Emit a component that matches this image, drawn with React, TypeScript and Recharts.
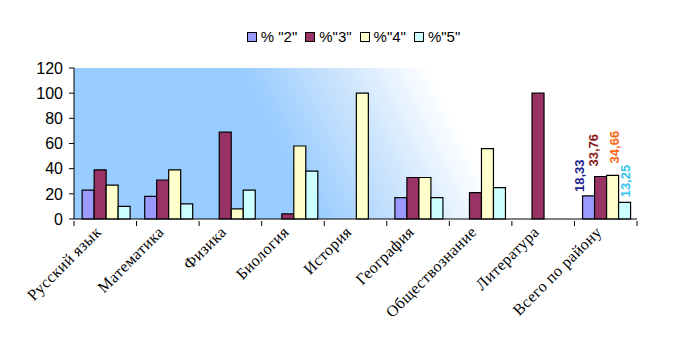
import React from "react";
import {Bar, BarChart, CartesianGrid, LabelList, Legend, XAxis, YAxis} from "recharts";

const subjects = [
    "Русский язык",
    "Математика",
    "Физика",
    "Биология",
    "История",
    "География",
    "Обществознание",
    "Литература",
    "Всего по району",
];

const pct2 = [23, 18, 0, 0, 0, 17, 0, 0, 18.33];
const pct3 = [39, 31, 69, 4, 0, 33, 21, 100, 33.76];
const pct4 = [27, 39, 8, 58, 100, 33, 56, 0, 34.66];
const pct5 = [10, 12, 23, 38, 0, 17, 25, 0, 13.25];

const yTicks = [0, 20, 40, 60, 80, 100, 120];

// label nudges copy where the original placed the total labels
const series = [
    {key: "p2", name: "% \"2\"", fill: "#9999ff", label: "#1c1c8c", dx: -10, gap: 4},
    {key: "p3", name: "%\"3\"", fill: "#993366", label: "#8b1a1a", dx: -8, gap: 10},
    {key: "p4", name: "%\"4\"", fill: "#ffffcc", label: "#ff6a13", dx: 1, gap: 12},
    {key: "p5", name: "%\"5\"", fill: "#ccffff", label: "#33c4ee", dx: 0, gap: 5},
];

const data = subjects.map((name, i) => ({
    name,
    p2: pct2[i],
    p3: pct3[i],
    p4: pct4[i],
    p5: pct5[i],
}));

const W = 694;
const H = 353;
const LEFT = 74;
const RIGHT = 637;
const HALF = (RIGHT - LEFT) / subjects.length / 2;
const FONT = "'Liberation Sans', Arial, sans-serif";

function SubjectTick(props: any) {
    const {x, y, payload, index} = props;
    const tx = x - 3;
    const ty = y + 6;
    return (
        <g>
            <line x1={x - HALF} y1={y - 6} x2={x - HALF} y2={y - 1} stroke="#000" />
            {index === subjects.length - 1 &&
                <line x1={x + HALF} y1={y - 6} x2={x + HALF} y2={y - 1} stroke="#000" />}
            <text
                x={tx}
                y={ty}
                transform={`rotate(-45 ${tx} ${ty})`}
                textAnchor="end"
                fontFamily="'Liberation Serif', serif"
                fontSize={16}
                letterSpacing={0.4}
                fill="#000"
            >
                {payload.value}
            </text>
        </g>
    );
}

function totalLabel(color: string, dx: number, gap: number) {
    return (props: any) => {
        const {x, y, width, value} = props;
        // only the district total gets its value written above the bar
        if (x < RIGHT - 2 * HALF) return null;
        const cx = x + width / 2 + dx + 5;
        const cy = y - gap;
        return (
            <text
                x={cx}
                y={cy}
                transform={`rotate(-90 ${cx} ${cy})`}
                textAnchor="start"
                fontFamily={FONT}
                fontWeight="bold"
                fontSize={13}
                fill={color}
            >
                {String(value).replace(".", ",")}
            </text>
        );
    };
}

function BoxLegend(props: any) {
    const {payload} = props;
    return (
        <div style={{display: "flex", justifyContent: "center", fontFamily: FONT, fontSize: 15, color: "#000"}}>
            {payload.map((p: any) => (
                <span key={p.value} style={{display: "inline-flex", alignItems: "center", marginRight: 8}}>
                    <svg width={10} height={10} style={{marginRight: 4}}>
                        <rect x={0.5} y={0.5} width={9} height={9} fill={p.color} stroke="#000" />
                    </svg>
                    {p.value}
                </span>
            ))}
        </div>
    );
}

export default function App() {
    return (
        <div style={{position: "absolute", left: 0, top: 0, width: W, height: H, background: "#fff"}}>
            <BarChart
                width={W}
                height={H}
                data={data}
                margin={{top: 51, right: W - RIGHT, left: 34, bottom: 0}}
                barCategoryGap="13%"
                barGap={0}
            >
                <defs>
                    <linearGradient id="plotBg" gradientUnits="userSpaceOnUse" x1="250" y1="85" x2="400" y2="10">
                        <stop offset="0" stopColor="#99ccff" />
                        <stop offset="0.45" stopColor="#c6e1fd" />
                        <stop offset="1" stopColor="#ffffff" />
                    </linearGradient>
                </defs>
                <CartesianGrid fill="url(#plotBg)" horizontal={false} vertical={false} />
                <Legend
                    verticalAlign="top"
                    align="center"
                    content={<BoxLegend />}
                    wrapperStyle={{top: 28, left: 56}}
                />
                <XAxis
                    dataKey="name"
                    interval={0}
                    height={134}
                    tickLine={false}
                    axisLine={{stroke: "#000"}}
                    tick={<SubjectTick />}
                />
                <YAxis
                    domain={[0, 120]}
                    ticks={yTicks}
                    width={40}
                    axisLine={{stroke: "#000"}}
                    tickLine={{stroke: "#000"}}
                    tickSize={5}
                    tickMargin={6}
                    tick={{fill: "#000", fontSize: 16, fontFamily: FONT}}
                />
                {series.map((s) => (
                    <Bar
                        key={s.key}
                        dataKey={s.key}
                        name={s.name}
                        fill={s.fill}
                        stroke="#000"
                        strokeWidth={1.2}
                        isAnimationActive={false}
                    >
                        <LabelList dataKey={s.key} content={totalLabel(s.label, s.dx, s.gap)} />
                    </Bar>
                ))}
            </BarChart>
        </div>
    );
}
